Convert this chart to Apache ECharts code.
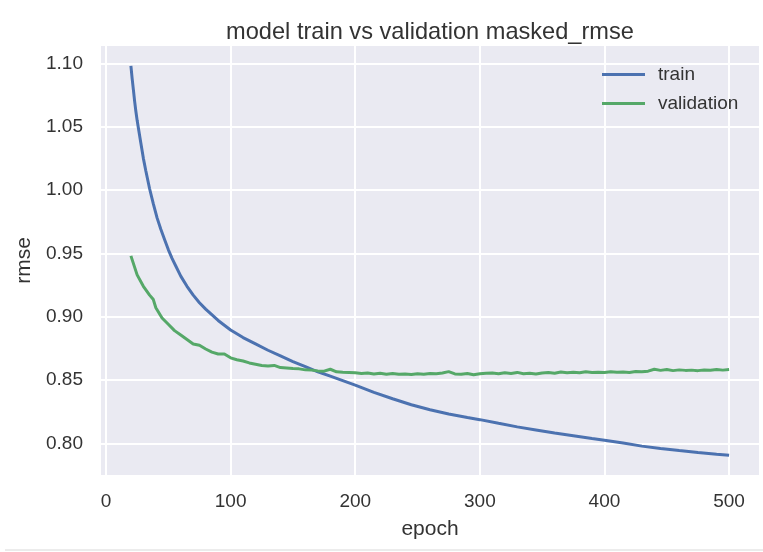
<!DOCTYPE html>
<html>
<head>
<meta charset="utf-8">
<script src="https://cdn.jsdelivr.net/npm/echarts@6/dist/echarts.min.js"></script>
<style>
html,body{margin:0;padding:0;background:#fff;}
#chart{width:763px;height:552px;}
</style>
</head>
<body>
<div id="chart"></div>
<script>
const titleText = 'model train vs validation masked_rmse';
const seriesNames = ['train', 'validation'];
const xTicks = [0, 100, 200, 300, 400, 500];
const yTicks = [0.80, 0.85, 0.90, 0.95, 1.00, 1.05, 1.10];

const trainEpochs = [20,21,22,23,24,25,26,28,30,32,35,38,41,44,47,50,53,56,60,65,70,75,80,90,100,110,120,130,140,150,160,170,180,190,200,215,230,245,260,275,290,300,315,330,345,360,375,390,400,415,430,445,460,475,490,500];
const trainValues = [1.098,1.088,1.079,1.070,1.062,1.055,1.049,1.037,1.025,1.015,1.001,0.989,0.978,0.969,0.961,0.953,0.946,0.940,0.932,0.924,0.917,0.911,0.906,0.897,0.8895,0.8835,0.8785,0.8735,0.869,0.8645,0.8605,0.8565,0.853,0.8495,0.846,0.8402,0.8352,0.8305,0.8265,0.8232,0.8204,0.8187,0.8158,0.8130,0.8106,0.8082,0.8060,0.8038,0.8024,0.8002,0.7978,0.7960,0.7943,0.7928,0.7914,0.7905];

const valEpochs = [20,25,30,35,38,40,45,50,55,60,65,70,75,80,85,90,95,100,105,110,115,120,125,130,135,140,145,150,155,160,165,170,175,180,185,190,195,
  200,205,210,215,220,225,230,235,240,245,250,255,260,265,270,275,280,285,290,295,300,305,310,315,320,325,330,335,340,345,350,355,360,365,370,375,380,385,390,395,400,405,410,415,420,425,430,435,440,445,450,455,460,465,470,475,480,485,490,495,500];
const valValues = [0.948,0.933,0.924,0.917,0.9135,0.907,0.899,0.894,0.889,0.8855,0.882,0.8785,0.8775,0.8745,0.872,0.8705,0.8705,0.8675,0.866,0.865,0.8635,0.8625,0.8615,0.861,0.8615,0.8598,0.8595,0.859,0.8588,0.858,0.8578,0.8572,0.857,0.8585,0.8565,0.8562,0.856,
  0.8558,0.8552,0.8556,0.8548,0.8553,0.8546,0.8552,0.8545,0.8548,0.8543,0.8550,0.8546,0.8552,0.8549,0.8555,0.8566,0.8548,0.8545,0.8551,0.8541,0.8549,0.8553,0.8556,0.8550,0.8558,0.8552,0.8560,0.8549,0.8553,0.8548,0.8556,0.8560,0.8554,0.8563,0.8558,0.8562,0.8557,0.8565,0.8559,0.8562,0.8560,0.8566,0.8561,0.8564,0.8560,0.8567,0.8565,0.8570,0.8585,0.8576,0.8583,0.8574,0.8580,0.8576,0.8578,0.8574,0.8579,0.8577,0.8583,0.8578,0.8582];

const zip = (xs, ys) => xs.map((x, i) => [x, ys[i]]);
const FONT = '"Liberation Sans", Arial, sans-serif';
const TXT = '#333';

const chart = echarts.init(document.getElementById('chart'), null, {renderer: 'canvas'});
chart.setOption({
  animation: false,
  backgroundColor: '#fff',
  title: {
    text: titleText,
    left: 425, top: 15, textAlign: 'center',
    textStyle: {fontFamily: FONT, fontSize: 23.6, fontWeight: 'normal', color: TXT}
  },
  grid: {
    left: 101, top: 46, right: 4, bottom: 77,
    show: true, backgroundColor: '#EAEAF2', borderWidth: 0
  },
  legend: {
    data: seriesNames,
    orient: 'vertical',
    left: 597, top: 60,
    icon: 'rect',
    itemWidth: 43, itemHeight: 3, itemGap: 10,
    textStyle: {fontFamily: FONT, fontSize: 19, color: TXT, padding: [0, 0, 0, 8]}
  },
  xAxis: {
    type: 'value', min: -4, max: 524,
    name: 'epoch', nameLocation: 'middle', nameGap: 44,
    nameTextStyle: {fontFamily: FONT, fontSize: 21, color: TXT},
    axisLine: {show: false},
    axisTick: {show: false, customValues: xTicks},
    axisLabel: {customValues: xTicks, margin: 17, fontFamily: FONT, fontSize: 19, color: TXT},
    splitLine: {show: true, lineStyle: {color: '#fff', width: 2}}
  },
  yAxis: {
    type: 'value', min: 0.775, max: 1.1137,
    name: 'rmse', nameLocation: 'middle', nameGap: 57,
    nameTextStyle: {fontFamily: FONT, fontSize: 21, color: TXT},
    axisLine: {show: false},
    axisTick: {show: false, customValues: yTicks},
    axisLabel: {customValues: yTicks, margin: 18, fontFamily: FONT, fontSize: 19, color: TXT,
      formatter: v => v.toFixed(2)},
    splitLine: {show: true, lineStyle: {color: '#fff', width: 2}}
  },
  graphic: [{
    type: 'line', shape: {x1: 5, y1: 550, x2: 763, y2: 550},
    style: {stroke: '#d8d8d8', lineWidth: 1}, silent: true
  }],
  series: [
    {name: seriesNames[0], type: 'line', data: zip(trainEpochs, trainValues),
      symbol: 'none', smooth: false,
      lineStyle: {color: '#4C72B0', width: 3}, itemStyle: {color: '#4C72B0'}},
    {name: seriesNames[1], type: 'line', data: zip(valEpochs, valValues),
      symbol: 'none', smooth: false,
      lineStyle: {color: '#55A868', width: 3}, itemStyle: {color: '#55A868'}}
  ]
});
</script>
</body>
</html>
